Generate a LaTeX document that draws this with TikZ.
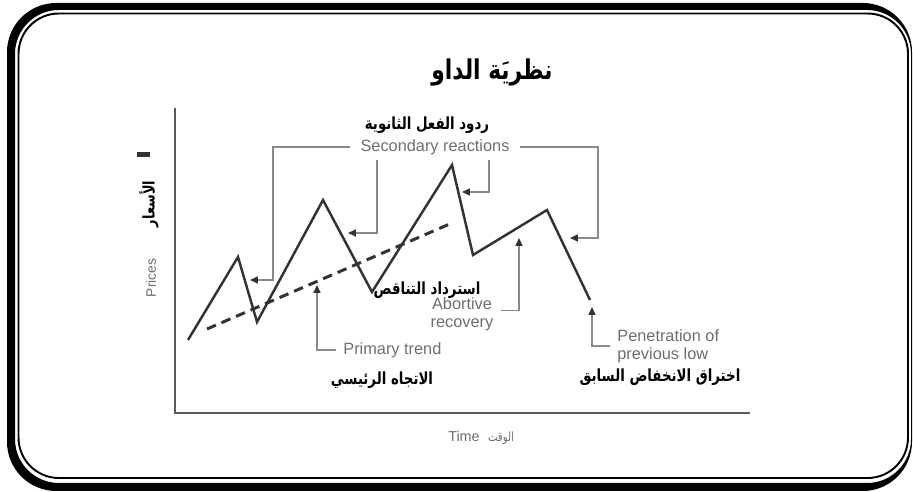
\documentclass[tikz,border=0pt]{standalone}
\usepackage{fontspec}
\setmainfont{Liberation Sans}
\newfontfamily\arabicfont[Script=Arabic, FakeStretch=0.8]{DejaVu Sans}
\TeXXeTstate=1
\usepackage{xcolor}
\definecolor{dLine}{HTML}{333333}
\definecolor{dGray}{HTML}{8A8A8A}
\definecolor{dAxis}{HTML}{5A5A5A}
\definecolor{dText}{HTML}{6E6E6E}
\usetikzlibrary{arrows.meta, positioning, calc}

\newcommand{\artxt}[1]{{\arabicfont\beginR #1\endR}}

\begin{document}
\begin{tikzpicture}[
  x=0.02cm, y=-0.02cm,
  every node/.style={inner sep=0pt},
  price/.style={draw=dLine, line width=1.4pt, line join=miter},
  trend/.style={draw=dLine, line width=1.7pt, dash pattern=on 5.5pt off 3.5pt},
  pointer/.style={draw=dGray, line width=0.8pt,
                  -{Triangle[length=4.5pt, width=4pt, color=dLine]}},
  entxt/.style={font=\fontsize{9.3}{10.3}\selectfont, text=dText, align=center},
  artxt/.style={font=\fontsize{9.5}{11}\selectfont\bfseries, text=black}
]
\useasboundingbox (0,0) rectangle (913,492);

% frame
\fill[black, even odd rule]
  [rounded corners=28pt] (7,3) rectangle (912,491)
  [rounded corners=25pt] (15,10) rectangle (911,483);
\draw[line width=1.1pt, rounded corners=23pt] (18.5,13.5) rectangle (908,478);

\node[font=\fontsize{15.5}{17}\selectfont\bfseries] (title) at (492,72)
  {\artxt{نظريَة الداو}};

% axes
\draw[dAxis, line width=1pt] (175,108) -- (175,413) -- (750,413);
\node[entxt, rotate=90, font=\fontsize{7.8}{9}\selectfont] (yen) at (151,278) {Prices};
\node[artxt, rotate=90, font=\fontsize{9.2}{10}\selectfont\bfseries] (yar) at (149,204)
  {\artxt{الأسعار}};
\fill[dLine] (137,152) rectangle (150,157);
\node[entxt, font=\fontsize{8.2}{9}\selectfont] (xen) at (464,436) {Time};
\node[text=dText, font=\fontsize{7.2}{8}\selectfont] (xar) at (501,438) {\artxt{الوقت}};

% price movement
\coordinate (p0) at (188,340);
\coordinate (p1) at (238,257);
\coordinate (p2) at (257,322);
\coordinate (p3) at (323,200);
\coordinate (p4) at (372,292);
\coordinate (p5) at (452,165);
\coordinate (p6) at (473,255);
\coordinate (p7) at (547,210);
\coordinate (p8) at (590,300);
\draw[price] (p0) -- (p1) -- (p2) -- (p3) -- (p4) -- (p5) -- (p6) -- (p7) -- (p8);

\coordinate (t0) at (207,329);
\coordinate (t1) at (452,223);
\draw[trend] (t0) -- (t1);

% arrow tips
\coordinate (a1) at (250,280);
\coordinate (a2) at (348,233);
\coordinate (a3) at (462,192);
\coordinate (a4) at (570,238);
\coordinate (pt) at (317,285);
\coordinate (ab) at (519,238);
\coordinate (pe) at (592,307);

% labels
\node[artxt] (secar) at (427,125) {\artxt{ردود الفعل الثانوية}};
\node[entxt] (sec) at (435,147) {Secondary reactions};

\node[artxt] (aboar) at (427,290) {\artxt{استرداد التناقص}};
\node[entxt] (abo) at (462,314) {Abortive\\recovery};

\node[entxt, anchor=west] (prim) at (343,350) {Primary trend};
\node[artxt] (primar) at (382,380) {\artxt{الاتجاه الرئيسي}};

\node[entxt, anchor=west, align=left] (pen) at (617,346)
  {Penetration of\\previous low};
\node[artxt] (penar) at (660,377) {\artxt{اختراق الانخفاض السابق}};

% callouts
\draw[pointer] ([xshift=-6pt]sec.west) -| ($(a1)+(23,0)$) -- (a1);
\draw[pointer] ([yshift=-3pt]sec.south -| 377,0) |- (a2);
\draw[pointer] ([yshift=-3pt]sec.south -| 489,0) |- (a3);
\draw[pointer] ([xshift=6pt]sec.east) -| ($(a4)+(28,0)$) -- (a4);
\draw[pointer] ([xshift=-4pt]prim.west) -| (pt);
\draw[pointer] ([xshift=4pt, yshift=2pt]abo.east) -| (ab);
\draw[pointer] ([xshift=-4pt]pen.west) -| (pe);
\end{tikzpicture}
\end{document}
